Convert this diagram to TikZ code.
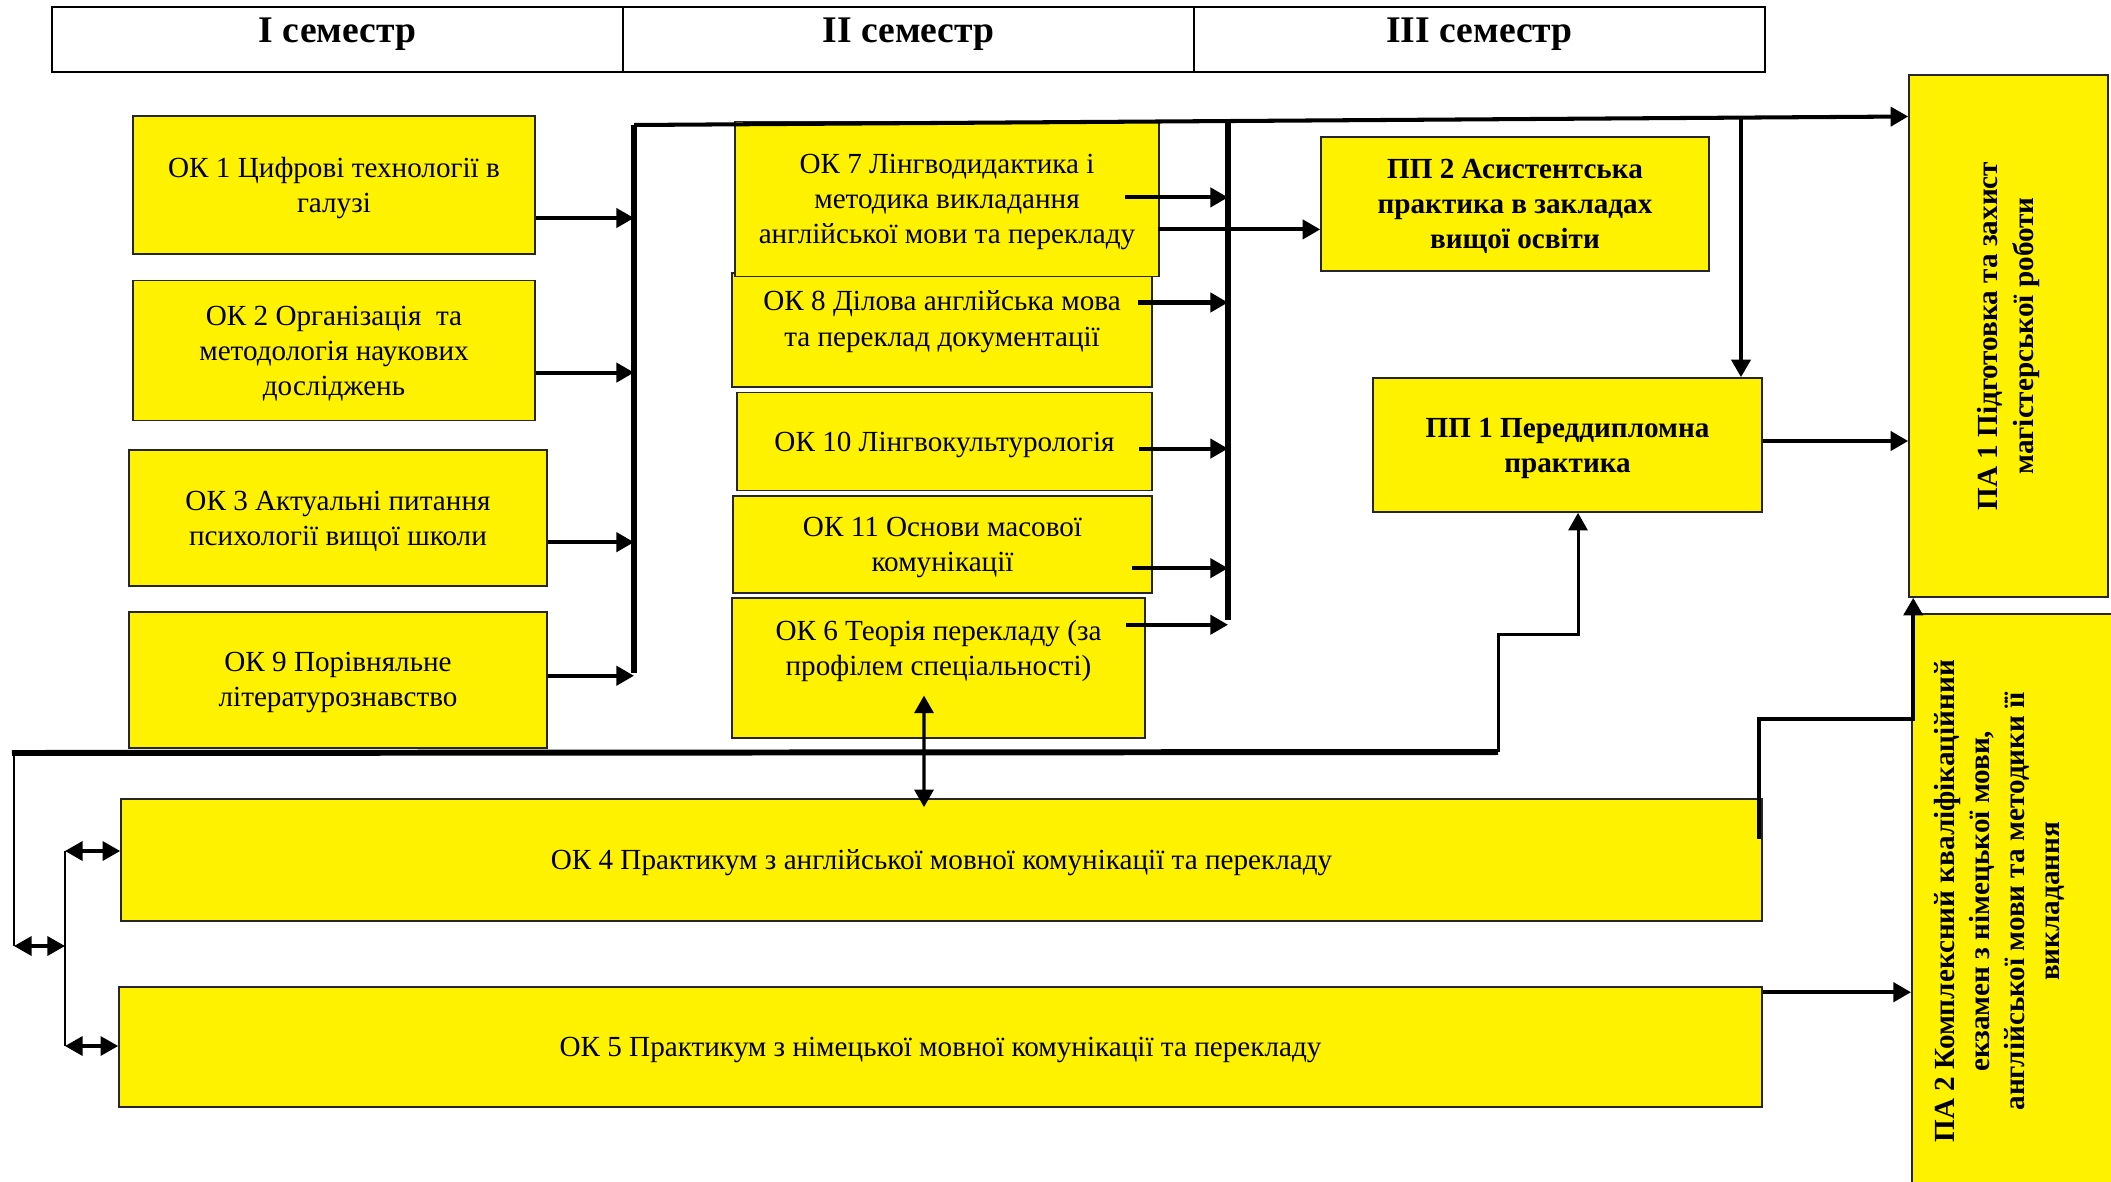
\documentclass[tikz,border=0pt]{standalone}
\usepackage{fontspec}
\setmainfont{Liberation Serif}
\usepackage{graphicx}
\usetikzlibrary{arrows.meta,positioning}

\newcommand{\okfont}{\fontsize{8.3}{10}\selectfont}
\newcommand{\semfont}{\fontsize{10.7}{12}\selectfont\bfseries}

\tikzset{
  okbox/.style={rectangle, draw=black!85, line width=0.45pt, fill=yellow, align=center, inner sep=1pt, text depth=-0.35mm, font=\okfont},
  ppbox/.style={okbox, font=\okfont\bfseries},
  semcell/.style={rectangle, draw, line width=0.7pt, outer sep=0pt, minimum width=5.71cm, minimum height=0.65cm, text height=0.23cm, text depth=0.16cm, font=\semfont},
  bus/.style={line width=1.7pt},
  link/.style={->, line width=1.15pt},
  thinlink/.style={line width=0.85pt},
  dlink/.style={<->, line width=0.95pt}
}

\begin{document}
\begin{tikzpicture}[auto, node distance=1cm, >={Triangle[length=5pt,width=5.4pt]}]
\useasboundingbox (0,0) rectangle (21.11,-11.81);
\clip (0,0) rectangle (21.11,-11.81);

% semesters
\node[semcell] (sem1) at (3.375,-0.395) {I семестр};
\node[semcell, right=0pt of sem1] (sem2) {II семестр};
\node[semcell, right=0pt of sem2] (sem3) {III семестр};

% first column
\node[okbox, minimum width=4.02cm, minimum height=1.38cm] (ok1) at (3.34,-1.85) {ОК 1 Цифрові технології в\\галузі};
\node[okbox, minimum width=4.02cm, minimum height=1.40cm, below=0.25cm of ok1] (ok2) {ОК 2 Організація~ та\\методологія наукових\\досліджень};
\node[okbox, minimum width=4.18cm, minimum height=1.36cm, below=0.28cm of ok2, xshift=0.4mm] (ok3) {ОК 3 Актуальні питання\\психології вищої школи};
\node[okbox, minimum width=4.18cm, minimum height=1.36cm, below=0.24cm of ok3] (ok9) {ОК 9 Порівняльне\\літературознавство};

% second column
\node[okbox, minimum width=4.20cm, minimum height=1.14cm, text depth=0.23cm] (ok8) at (9.42,-3.30) {ОК 8 Ділова англійська мова\\та переклад документації};
\node[okbox, minimum width=4.24cm, minimum height=1.55cm, above=-0.05cm of ok8, xshift=0.5mm] (ok7) {ОК 7 Лінгводидактика і\\методика викладання\\англійської мови та перекладу};
\node[okbox, minimum width=4.15cm, minimum height=0.98cm, below=0.04cm of ok8, xshift=0.25mm] (ok10) {ОК 10 Лінгвокультурологія};
\node[okbox, minimum width=4.19cm, minimum height=0.97cm, below=0.04cm of ok10, xshift=-0.2mm] (ok11) {ОК 11 Основи масової\\комунікації};
\node[okbox, minimum width=4.13cm, minimum height=1.40cm, below=0.03cm of ok11, xshift=-0.4mm, text depth=0.39cm] (ok6) {ОК 6 Теорія перекладу (за\\профілем спеціальності)};

% practice and attestation
\node[ppbox, minimum width=3.88cm, minimum height=1.34cm] (pp2) at (15.15,-2.04) {ПП 2 Асистентська\\практика в закладах\\вищої освіти};
\node[ppbox, minimum width=3.89cm, minimum height=1.34cm] (pp1) at (15.675,-4.45) {ПП 1 Переддипломна\\практика};
\node[ppbox, minimum width=1.99cm, minimum height=5.22cm, text depth=0pt] (pa1) at (20.085,-3.36) {\rotatebox{90}{\begin{tabular}{@{}c@{}}ПА 1 Підготовка та захист\\магістерської роботи\end{tabular}}};
\node[ppbox, minimum width=2.1cm, minimum height=5.75cm, text depth=0pt, anchor=north west] (pa2) at (19.11,-6.13) {\rotatebox{90}{\begin{tabular}{@{}c@{}}ПА 2 Комплексний кваліфікаційний\\екзамен з німецької мови,\\англійської мови та методики її\\викладання\end{tabular}}\hspace*{0.34cm}};

% practicums
\node[okbox, minimum width=16.41cm, minimum height=1.22cm] (ok4) at (9.415,-8.60) {ОК 4 Практикум з англійської мовної комунікації та перекладу};
\node[okbox, minimum width=16.43cm, minimum height=1.20cm] (ok5) at (9.405,-10.47) {ОК 5 Практикум з німецької мовної комунікації та перекладу};

\coordinate (b1t) at (6.34,-1.25);
\coordinate (b1b) at (6.34,-6.73);
\coordinate (b2t) at (12.28,-1.21);
\coordinate (b2b) at (12.28,-6.20);
\coordinate (pdown) at (17.41,-1.18);
\coordinate (l0) at (0.12,-7.53);
\coordinate (l1) at (14.98,-7.52);
\coordinate (br1) at (0.14,-9.46);
\coordinate (br2t) at (0.65,-8.51);
\coordinate (br2b) at (0.65,-10.46);

\draw[bus] (b1b) -- (b1t);
\draw[link] (b1t) -- ([yshift=21.95mm]pa1.west);
\draw[bus] (b2t) -- (b2b);
\draw[link] ([yshift=-3.3mm]ok1.east) coordinate (a1) -- (a1 -| b1t);
\draw[link] ([yshift=-2.2mm]ok2.east) coordinate (a2) -- (a2 -| b1t);
\draw[link] ([yshift=-2.4mm]ok3.east) coordinate (a3) -- (a3 -| b1t);
\draw[link] ([yshift=0.4mm]ok9.east) coordinate (a9) -- (a9 -| b1t);
\draw[link] ([shift={(-3.5mm,0.15mm)}]ok7.east) coordinate (a7) -- (a7 -| b2t);
\draw[link] ([shift={(-0.2mm,-3.05mm)}]ok7.east) coordinate (c7) -- (c7 -| pp2.west);
\draw[link] ([shift={(-1.5mm,2.75mm)}]ok8.east) coordinate (a8) -- (a8 -| b2t);
\draw[link] ([shift={(-1.4mm,-0.7mm)}]ok10.east) coordinate (a10) -- (a10 -| b2t);
\draw[link] ([shift={(-2.1mm,-2.35mm)}]ok11.east) coordinate (a11) -- (a11 -| b2t);
\draw[link] ([shift={(-2mm,4.3mm)}]ok6.east) coordinate (a6) -- (a6 -| b2t);
\draw[link] (pdown) -- (pdown |- pp1.north);
\draw[link] ([yshift=0.4mm]pp1.east) coordinate (p1) -- (p1 -| pa1.west);

% bottom connections
\draw[bus] (l0) -- (l1);
\draw[thinlink, ->] (l1) -- ++(0,1.175) -| ([xshift=1.05mm]pp1.south);
\draw[thinlink] (l0 -| br1) -- (br1);
\draw[dlink] (br1) -- (br1 -| br2t);
\draw[thinlink] (br2t) -- (br2b);
\draw[dlink] (br2t) -- (br2t -| ok4.west);
\draw[dlink] (br2b) -- (br2b -| ok5.west);
\draw[dlink] ([shift={(-1.45mm,4.3mm)}]ok6.south) -- ([shift={(-1.75mm,-0.9mm)}]ok4.north);
\draw[link] ([shift={(-0.4mm,-4.1mm)}]ok4.north east) -- ++(0,1.2) -| ([xshift=0.5mm]pa1.south west);
\draw[link] ([yshift=-0.6mm]ok5.north east) coordinate (a5) -- (a5 -| pa2.west);
\end{tikzpicture}
\end{document}
